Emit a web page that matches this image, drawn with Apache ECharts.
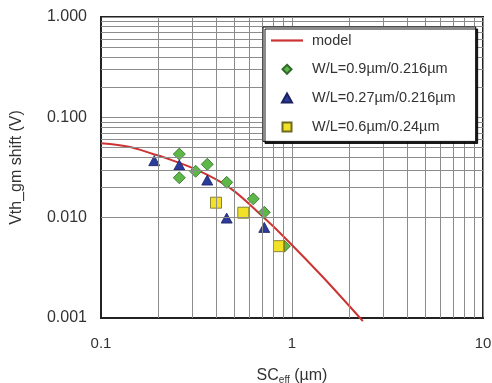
<!DOCTYPE html>
<html><head><meta charset="utf-8">
<script src="https://cdn.jsdelivr.net/npm/echarts@6/dist/echarts.min.js"></script>
<style>html,body{margin:0;padding:0;background:#fff}#c{width:492px;height:383px}</style>
</head><body><div id="c"></div>
<script>
// ---- data ----
const seriesNames = ['model', 'W/L=0.9µm/0.216µm', 'W/L=0.27µm/0.216µm', 'W/L=0.6µm/0.24µm'];
const modelCurve = [[0.1,0.0551],[0.142,0.0506],[0.187,0.0431],[0.211,0.0402],[0.318,0.0299],[0.473,0.0198],[0.705,0.0102],[0.942,0.0060],[1.45,0.00256],[2.35,0.00093]];
const wl09 = [[0.257,0.043],[0.257,0.025],[0.313,0.029],[0.36,0.034],[0.455,0.0225],[0.627,0.0154],[0.716,0.0113],[0.912,0.0052]];
const wl027 = [[0.19,0.037],[0.257,0.0335],[0.36,0.0237],[0.455,0.0099],[0.716,0.0080]];
const wl06 = [[0.40,0.0141],[0.556,0.0112],[0.855,0.0052]];
const xTickLabels = ['0.1', '1', '10'];
const yTickLabels = ['0.001', '0.010', '0.100', '1.000'];
const xMinorGrid = [0.2,0.3,0.4,0.5,0.6,0.7,0.8,0.9,2,3,4,5,6,7,8,9];
const yMinorGrid = [0.002,0.003,0.004,0.005,0.006,0.007,0.008,0.009,0.02,0.03,0.04,0.05,0.06,0.07,0.08,0.09,0.2,0.3,0.4,0.5,0.6,0.7,0.8,0.9];

const FONT = '"Liberation Sans", Arial, sans-serif';
const GRID_COLOR = '#8c8c8c';
const chart = echarts.init(document.getElementById('c'), null, {renderer: 'canvas'});
const minorLines = xMinorGrid.map(v => ({xAxis: v})).concat(yMinorGrid.map(v => ({yAxis: v})));

chart.setOption({
  animation: false,
  backgroundColor: '#fff',
  grid: {left: 101, right: 9, top: 17, bottom: 65, containLabel: false, outerBoundsMode: 'none',
         show: true, borderColor: '#222', borderWidth: 2},
  xAxis: {
    type: 'log', logBase: 10, min: 0.1, max: 10,
    axisLine: {show: true, lineStyle: {color: '#222', width: 2}},
    axisTick: {show: false},
    splitLine: {show: true, lineStyle: {color: GRID_COLOR, width: 1}},
    axisLabel: {
      fontFamily: FONT, fontSize: 15, color: '#333', margin: 18,
      formatter: v => xTickLabels[Math.round(Math.log10(v)) + 1]
    },
    name: '{a|SC}{b|eff}{a| (µm)}',
    nameLocation: 'middle', nameGap: 49,
    nameTextStyle: {
      fontFamily: FONT, color: '#333',
      rich: {
        a: {fontFamily: FONT, fontSize: 16, color: '#333'},
        b: {fontFamily: FONT, fontSize: 10, color: '#333', verticalAlign: 'bottom', padding: [8, 0, 0, 0]}
      }
    }
  },
  yAxis: {
    type: 'log', logBase: 10, min: 0.001, max: 1,
    axisLine: {show: true, lineStyle: {color: '#222', width: 2}},
    axisTick: {show: false},
    splitLine: {show: true, lineStyle: {color: GRID_COLOR, width: 1}},
    axisLabel: {
      fontFamily: FONT, fontSize: 16, color: '#333', margin: 14,
      formatter: v => yTickLabels[Math.round(Math.log10(v)) + 3]
    },
    name: 'Vth_gm shift (V)',
    nameLocation: 'middle', nameGap: 76,
    nameTextStyle: {fontFamily: FONT, fontSize: 16, color: '#333'}
  },
  legend: {
    z: 20,
    data: [
      {name: seriesNames[0], icon: 'path://M0,0L32,0L32,2.2L0,2.2Z'},
      {name: seriesNames[1], icon: 'path://M5,0L10,5L5,10L0,5Z'},
      {name: seriesNames[2], icon: 'path://M5,0L10,9L0,9Z'},
      {name: seriesNames[3], icon: 'path://M0,0L10,0L10,10L0,10Z'}
    ],
    symbolKeepAspect: true,
    orient: 'vertical',
    left: 263, top: 27,
    padding: [6, 20, 7, 8],
    itemWidth: 32, itemHeight: 9, itemGap: 13.8,
    backgroundColor: '#fff',
    borderColor: '#111', borderWidth: 1,
    shadowColor: 'rgba(0,0,0,0.9)', shadowBlur: 0, shadowOffsetX: 2, shadowOffsetY: 2,
    textStyle: {fontFamily: FONT, fontSize: 14.5, color: '#333', padding: [0, 0, 0, 4]}
  },
  series: [
    {
      name: 'grid-minor', type: 'scatter', data: [], z: 1, silent: true,
      markLine: {
        silent: true, symbol: 'none', label: {show: false},
        lineStyle: {color: GRID_COLOR, width: 1, type: 'solid'},
        emphasis: {disabled: true},
        data: minorLines
      }
    },
    {
      name: seriesNames[0], type: 'line', data: modelCurve, smooth: 0.35,
      symbol: 'none', clip: false, z: 3,
      lineStyle: {color: '#cc3333', width: 2}, itemStyle: {color: '#cc3333'}
    },
    {
      name: seriesNames[1], type: 'scatter', data: wl09, symbol: 'diamond', symbolSize: [12, 12], z: 4,
      itemStyle: {color: '#5db848', borderColor: '#2f6a2a', borderWidth: 0.8, opacity: 1}
    },
    {
      name: seriesNames[2], type: 'scatter', data: wl027, symbol: 'triangle', symbolSize: [11, 10], z: 4,
      itemStyle: {color: '#2b3b9c', borderColor: '#1a2360', borderWidth: 0.8, opacity: 1}
    },
    {
      name: seriesNames[3], type: 'scatter', data: wl06, symbol: 'rect', symbolSize: [11, 11], z: 4,
      itemStyle: {color: '#f1e228', borderColor: '#6e6a20', borderWidth: 0.8, opacity: 1}
    }
  ]
});
</script></body></html>
